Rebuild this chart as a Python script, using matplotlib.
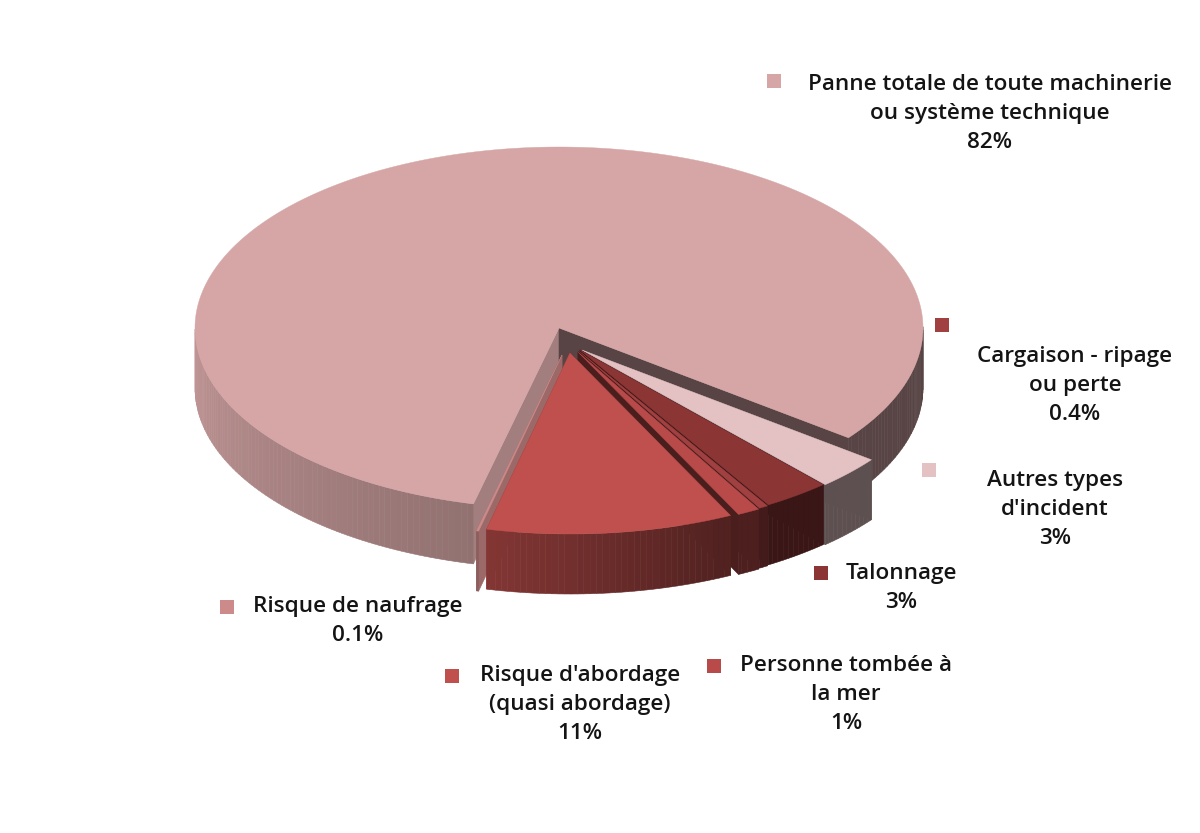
import numpy as np
import matplotlib
matplotlib.use("Agg")
import matplotlib.pyplot as plt
from matplotlib.colors import to_rgb
from matplotlib.patches import Polygon

plt.rcParams['font.family'] = ['Open Sans', 'DejaVu Sans']

# ─────────────────────────────────────────────
#  DATA
# ─────────────────────────────────────────────

labels = ["Panne totale de toute machinerie\nou système technique",
          "Autres types\nd'incident",
          "Talonnage",
          "Cargaison - ripage\nou perte",
          "Personne tombée à\nla mer",
          "Risque d'abordage\n(quasi abordage)",
          "Risque de naufrage"]
values = [82, 3, 3, 0.4, 1, 11, 0.1]

# ─────────────────────────────────────────────
#  STYLE AND GEOMETRY (pixels)
# ─────────────────────────────────────────────

colors = ["#d6a6a6", "#e4c2c4", "#8c3535", "#a04040", "#b84a4a", "#c0504d", "#cd8a8a"]
offsets = [(0, 0), (23, 22), (21, 22), (20, 23), (19, 24), (11, 25), (3, 27)]
draw_order = [0, 1, 2, 3, 4, 6, 5]

CENTER = (559, 328)
RX, RY = 364, 181
DEPTH = 60
START_ANGLE = 103.6

# text centre x, first line y, key centre
label_pos = [(990, 87, (774, 81)),
             (1055, 483, (929, 470)),
             (901, 576, (821, 573)),
             (1075, 359, (942, 325)),
             (846, 668, (714, 666)),
             (580, 678, (452, 676)),
             (358, 609, (227, 607))]


def rim_shade(theta):
    t = np.mod(theta, 360)
    return np.interp(t, [0, 40, 65, 103, 180], [0.41, 0.41, 0.42, 0.68, 0.90])


def wall_shade(theta):
    t = np.mod(theta, 360)
    return np.interp(t, [0, 64, 103, 180], [0.41, 0.41, 0.76, 0.80])


def shaded(color, k):
    return tuple(c * k for c in to_rgb(color))


def draw_slice(ax, t0, t1, off, color):
    cx, cy = CENTER[0] + off[0], CENTER[1] + off[1]

    def point(t):
        r = np.radians(t)
        return cx + RX * np.cos(r), cy + RY * np.sin(r)

    # cut faces
    for t in (t0, t1):
        x, y = point(t)
        wall = [(cx, cy), (x, y), (x, y + DEPTH), (cx, cy + DEPTH)]
        c = shaded(color, wall_shade(t))
        ax.add_patch(Polygon(wall, closed=True, facecolor=c, edgecolor=c, linewidth=0.4))

    # outer rim, only the part turned towards the viewer
    steps = np.arange(t0, t1, 1.0).tolist() + [t1]
    for a, b in zip(steps[:-1], steps[1:]):
        if np.sin(np.radians((a + b) / 2)) <= 0:
            continue
        xa, ya = point(a)
        xb, yb = point(b)
        c = shaded(color, rim_shade((a + b) / 2))
        ax.add_patch(Polygon([(xa, ya), (xb, yb), (xb, yb + DEPTH), (xa, ya + DEPTH)],
                             closed=True, facecolor=c, edgecolor=c, linewidth=0.4))

    # top face
    arc = np.linspace(t0, t1, max(int(t1 - t0) * 2, 3))
    top = [(cx, cy)] + [point(t) for t in arc]
    ax.add_patch(Polygon(top, closed=True, facecolor=color, edgecolor=color, linewidth=0.3))


# ─────────────────────────────────────────────
#  FIGURE
# ─────────────────────────────────────────────

fig = plt.figure(figsize=(12, 8.33), dpi=100)
ax = fig.add_axes([0, 0, 1, 1])
ax.set_xlim(0, 1200)
ax.set_ylim(833, 0)
ax.axis('off')

spans = np.array(values) / sum(values) * 360.0
bounds = START_ANGLE + np.concatenate([[0], np.cumsum(spans)])

for i in draw_order:
    draw_slice(ax, bounds[i], bounds[i + 1], offsets[i], colors[i])

for i, (name, val) in enumerate(zip(labels, values)):
    x, y, key = label_pos[i]
    text = f"{name}\n{val:g}%"
    ax.text(x, y - 13, text, ha='center', va='top', fontsize=16.2, fontweight=600,
            color='#141414', linespacing=1.5)
    ax.scatter(*key, marker='s', s=115, color=colors[i], linewidths=0)

fig.savefig("out.png", dpi=100)
